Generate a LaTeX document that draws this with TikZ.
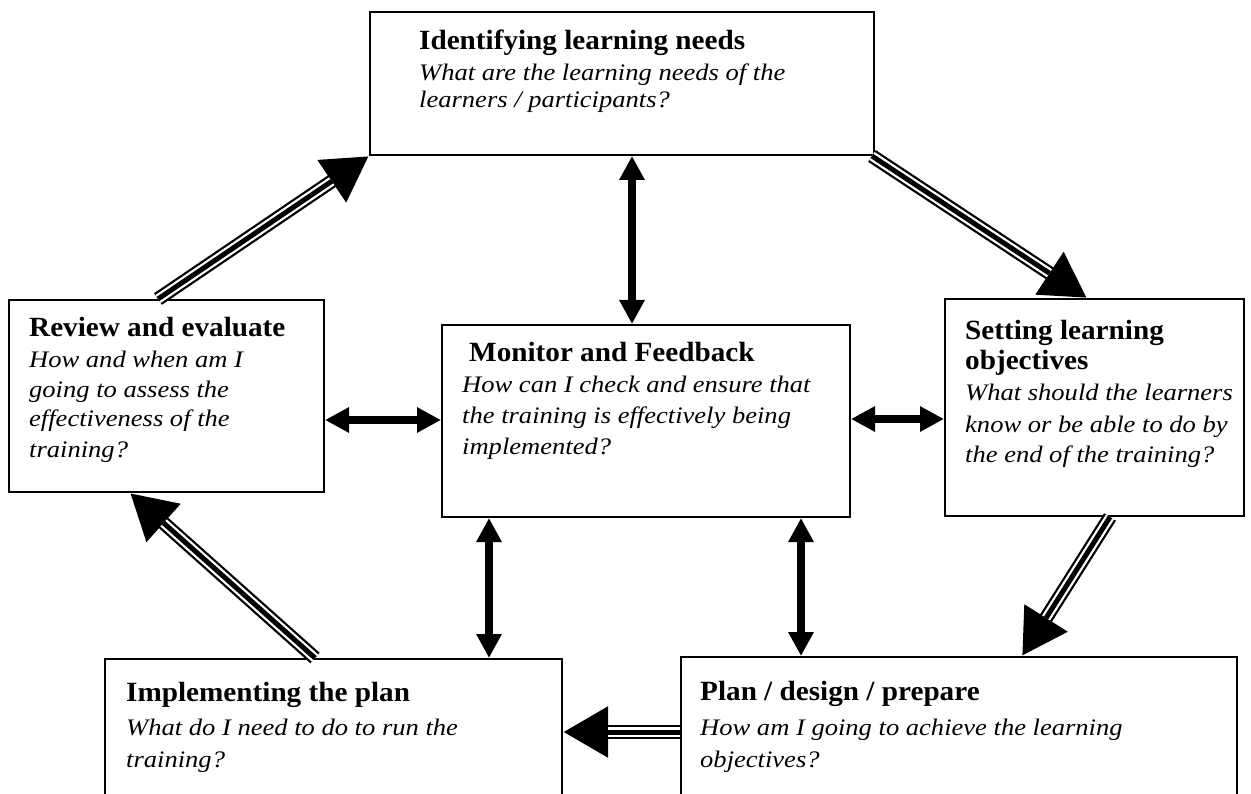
\documentclass[tikz,border=0pt]{standalone}
\usepackage{fontspec}
\setmainfont{Liberation Serif}
\newfontfamily\hdfont{Liberation Serif}[FakeStretch=1.05]
\newfontfamily\qfont{Liberation Serif}[FakeStretch=1.12]
\usetikzlibrary{arrows.meta}
\tikzset{
  box/.style={draw, line width=2pt, inner sep=0pt, anchor=north west, fill=white},
  hd/.style={anchor=base west, inner sep=0pt, font=\hdfont\bfseries\fontsize{27.8}{30}\selectfont},
  qq/.style={anchor=base west, inner sep=0pt, font=\qfont\itshape\fontsize{23.7}{30}\selectfont},
  bigtip/.tip={Triangle[length=24pt 0 0, width=24pt 0 0]},
  hugetip/.tip={Triangle[length=45pt 0 0, width=48pt 0 0]},
  dbl/.style={line width=7.5pt, bigtip-bigtip},
}
\newcommand\tripar[2]{%
  \draw[line width=14pt, -hugetip] #1 -- #2;
  \draw[white, line width=9.5pt, shorten >=45pt] #1 -- #2;
  \draw[line width=5pt, shorten >=45pt] #1 -- #2;}
\begin{document}
\begin{tikzpicture}[x=1pt, y=-1pt]
\useasboundingbox (0,0) rectangle (1251,794);
\clip (0,0) rectangle (1251,794);
\fill[white] (0,0) rectangle (1251,794);
% boxes
\node[box, minimum width=504pt, minimum height=143pt] (top) at (369,11) {};
\node[box, minimum width=315pt, minimum height=192pt] (review) at (8,299) {};
\node[box, minimum width=408pt, minimum height=192pt] (monitor) at (441,324) {};
\node[box, minimum width=299pt, minimum height=217pt] (setting) at (944,298) {};
\node[box, minimum width=457pt, minimum height=170pt] (impl) at (104,658) {};
\node[box, minimum width=556pt, minimum height=170pt] (plan) at (680,656) {};
% texts
\node[hd] (t1) at (419,50) {Identifying learning needs};
\node[qq] (t2) at (419,81) {What are the learning needs of the};
\node[qq] (t3) at (419,108) {learners / participants?};
\node[hd] (r1) at (29,337) {Review and evaluate};
\node[qq] (r2) at (29,368) {How and when am I};
\node[qq] (r3) at (29,397) {going to assess the};
\node[qq] (r4) at (29,427) {effectiveness of the};
\node[qq] (r5) at (29,457) {training?};
\node[hd] (m1) at (469,362) {Monitor and Feedback};
\node[qq] (m2) at (462,392) {How can I check and ensure that};
\node[qq] (m3) at (462,423) {the training is effectively being};
\node[qq] (m4) at (462,454) {implemented?};
\node[hd] (s1) at (965,340) {Setting learning};
\node[hd] (s2) at (965,370) {objectives};
\node[qq] (s3) at (965,400) {What should the learners};
\node[qq] (s4) at (965,432) {know or be able to do by};
\node[qq] (s5) at (965,462) {the end of the training?};
\node[hd] (i1) at (126,701) {Implementing the plan};
\node[qq] (i2) at (126,735) {What do I need to do to run the};
\node[qq] (i3) at (126,767) {training?};
\node[hd] (p1) at (700,700) {Plan / design / prepare};
\node[qq] (p2) at (700,735) {How am I going to achieve the learning};
\node[qq] (p3) at (700,767) {objectives?};
% double-headed arrows
\draw[dbl] ([xshift=263pt]top.south west) -- ([xshift=191pt]monitor.north west);
\draw[dbl] ([yshift=-121pt]review.north east) -- ([yshift=-96pt]monitor.north west);
\draw[dbl] ([yshift=-95pt]monitor.north east) -- ([yshift=-121pt]setting.north west);
\draw[dbl] ([xshift=48pt]monitor.south west) -- ([xshift=385pt]impl.north west);
\draw[dbl] ([xshift=360pt]monitor.south west) -- ([xshift=121pt]plan.north west);
% cycle arrows
\tripar{([xshift=150pt]review.north west)}{(top.south west)}
\tripar{([xshift=-3pt]top.south east)}{([xshift=143pt]setting.north west)}
\tripar{([xshift=166pt]setting.south west)}{([xshift=342pt]plan.north west)}
\tripar{([yshift=-76pt]plan.north west)}{([yshift=-74pt]impl.north east)}
\tripar{([xshift=211pt]impl.north west)}{([xshift=122pt]review.south west)}
\end{tikzpicture}
\end{document}
